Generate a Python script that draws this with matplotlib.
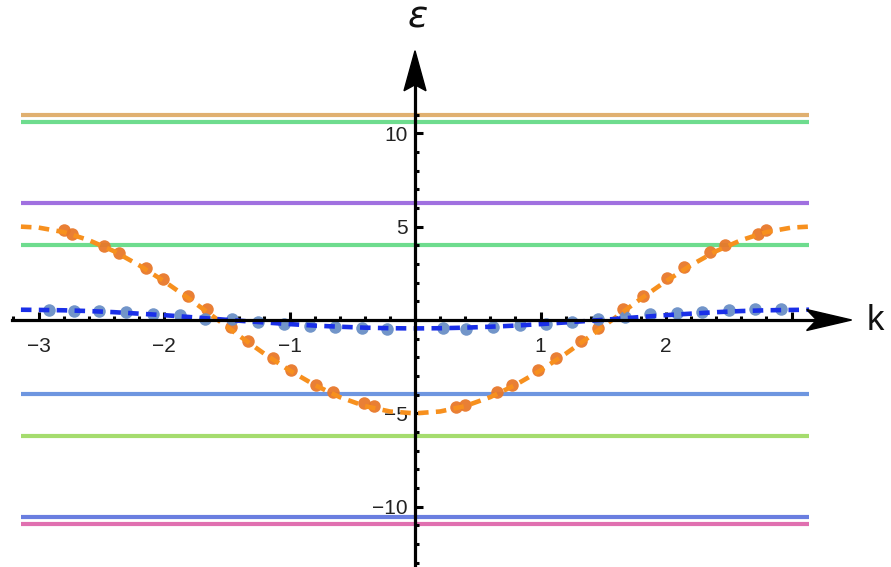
import matplotlib
matplotlib.use("Agg")
import matplotlib.pyplot as plt
from matplotlib.patches import Polygon
import numpy as np

# Flat levels (energies of the bound states)
levels = [10.98, 10.60, 6.25, 4.00, -3.97, -6.20, -10.55, -10.92]
level_colors = ["#e0b070", "#6edc8e", "#a070e0", "#6edc8e",
                "#6e96e0", "#a5dc6e", "#6a7ee0", "#e070b0"]

# Dispersive bands (dashed curves)
k_band = [-3.14, -3.0, -2.8, -2.6, -2.4, -2.2, -2.0, -1.8, -1.6, -1.4, -1.2, -1.0,
          -0.8, -0.6, -0.4, -0.2, 0.0, 0.2, 0.4, 0.6, 0.8, 1.0, 1.2, 1.4, 1.6,
          1.8, 2.0, 2.2, 2.4, 2.6, 2.8, 3.0, 3.14]
e_band_upper = [5.00, 4.95, 4.71, 4.28, 3.69, 2.94, 2.08, 1.14, 0.15, -0.85, -1.81,
                -2.70, -3.48, -4.13, -4.61, -4.90, -5.00, -4.90, -4.61, -4.13, -3.48,
                -2.70, -1.81, -0.85, 0.15, 1.14, 2.08, 2.94, 3.69, 4.28, 4.71, 4.95, 5.00]
e_band_lower = [0.55, 0.54, 0.52, 0.48, 0.42, 0.34, 0.26, 0.16, 0.06, -0.04, -0.13,
                -0.22, -0.30, -0.36, -0.41, -0.44, -0.45, -0.44, -0.41, -0.36, -0.30,
                -0.22, -0.13, -0.04, 0.06, 0.16, 0.26, 0.34, 0.42, 0.48, 0.52, 0.54, 0.55]

# Numerical points
k_dots_upper = [-2.80, -2.73, -2.48, -2.36, -2.14, -2.01, -1.81, -1.66, -1.47, -1.33,
                -1.13, -0.99, -0.79, -0.65, -0.41, -0.33, 0.33, 0.40, 0.65, 0.77,
                0.98, 1.12, 1.32, 1.46, 1.66, 1.82, 2.01, 2.14, 2.35, 2.47, 2.73, 2.80]
e_dots_upper = [4.82, 4.61, 3.97, 3.59, 2.79, 2.20, 1.29, 0.59, -0.37, -1.12,
                -2.03, -2.68, -3.48, -3.86, -4.45, -4.61, -4.65, -4.55, -3.86, -3.48,
                -2.68, -2.03, -1.12, -0.43, 0.59, 1.29, 2.25, 2.84, 3.64, 4.02, 4.61, 4.82]
k_dots_lower = [-2.92, -2.72, -2.52, -2.30, -2.09, -1.87, -1.67, -1.46, -1.25, -1.04,
                -0.84, -0.64, -0.42, -0.22, 0.22, 0.41, 0.62, 0.84, 1.04, 1.25,
                1.46, 1.67, 1.87, 2.09, 2.29, 2.50, 2.71, 2.92]
e_dots_lower = [0.56, 0.50, 0.47, 0.42, 0.32, 0.25, 0.08, 0.08, -0.11, -0.21,
                -0.31, -0.38, -0.43, -0.47, -0.44, -0.47, -0.39, -0.28, -0.21, -0.11,
                0.06, 0.16, 0.30, 0.36, 0.43, 0.52, 0.57, 0.58]

x_major = [-3, -2, -1, 1, 2, 3]
x_labels = ["\u22123", "\u22122", "\u22121", "1", "2", ""]
y_major = [-10, -5, 5, 10]
y_labels = ["\u221210", "\u22125", "5", "10"]

W, H = 891, 567
fig = plt.figure(figsize=(W / 100, H / 100), dpi=100)
ax = fig.add_axes([0, 0, 1, 1])
x0_px, y0_px = 415.0, 320.0
sx, sy = 125.5, 18.67
ax.set_xlim(-x0_px / sx, (W - x0_px) / sx)
ax.set_ylim(-(H - y0_px) / sy, y0_px / sy)
ax.patch.set_alpha(0)
fig.patch.set_facecolor("white")

# flat levels
for lv, c in zip(levels, level_colors):
    ax.plot([-np.pi, np.pi], [lv, lv], color=c, lw=3.0, solid_capstyle="butt", zorder=1)

# dots
ax.plot(k_dots_upper, e_dots_upper, "o", color="#e8782a", ms=9.0, mec="none", alpha=0.95, zorder=2)
ax.plot(k_dots_lower, e_dots_lower, "o", color="#6a8fc6", ms=9.0, mec="none", alpha=0.95, zorder=2)

# dashed bands
ax.plot(k_band, e_band_upper, color="#f7901e", lw=3.3, dashes=(2.3, 1.6), zorder=3)
ax.plot(k_band, e_band_lower, color="#1a2fe8", lw=3.3, dashes=(2.3, 1.6), zorder=3)

# axes through the origin
axlw = 2.3
for s in ["top", "right"]:
    ax.spines[s].set_visible(False)
ax.spines["left"].set_position(("data", 0))
ax.spines["bottom"].set_position(("data", 0))
ax.spines["left"].set_linewidth(axlw)
ax.spines["bottom"].set_linewidth(axlw)
ax.spines["bottom"].set_bounds(-3.21, 3.20)
ax.spines["left"].set_bounds(-13.4, 12.6)
ax.spines["left"].set_zorder(5)
ax.spines["bottom"].set_zorder(5)

ax.set_xticks(x_major)
ax.set_xticklabels(x_labels)
ax.set_xticks(np.round(np.arange(-3.2, 3.21, 0.2), 2), minor=True)
ax.set_yticks(y_major)
ax.set_yticklabels(y_labels)
ax.set_yticks(np.arange(-13, 12), minor=True)
ax.tick_params(which="major", direction="in", length=5.5, width=2.2, labelsize=15,
               color="black", labelcolor="#222222")
ax.tick_params(which="minor", direction="in", length=3.2, width=2.2, color="black")
ax.tick_params(axis="x", which="major", pad=12)
ax.tick_params(axis="y", which="major", pad=5)
for lab in ax.get_xticklabels() + ax.get_yticklabels():
    lab.set_fontfamily("Liberation Sans")

# arrowheads (kite shaped)
px = 1.0 / sx
py = 1.0 / sy
xh = Polygon([[3.20, 0], [3.20 - 10 * px, 10.5 * py], [3.20 + 35 * px, 0],
              [3.20 - 10 * px, -10.5 * py]], closed=True, color="black", zorder=6)
ax.add_patch(xh)
yh = Polygon([[0, 12.6], [-11 * px, 12.6 - 6 * py], [0, 12.6 + 34 * py],
              [11 * px, 12.6 - 6 * py]], closed=True, color="black", zorder=6)
ax.add_patch(yh)

ax.text(3.67, -0.05, "k", fontsize=25, family="Liberation Sans", ha="center", va="center",
        color="#111111")
ax.text(0.02, 16.2, "\u03b5", fontsize=27, family="DejaVu Sans", style="italic",
        ha="center", va="center", color="#111111")

fig.savefig("out.png", dpi=100, facecolor="white")
